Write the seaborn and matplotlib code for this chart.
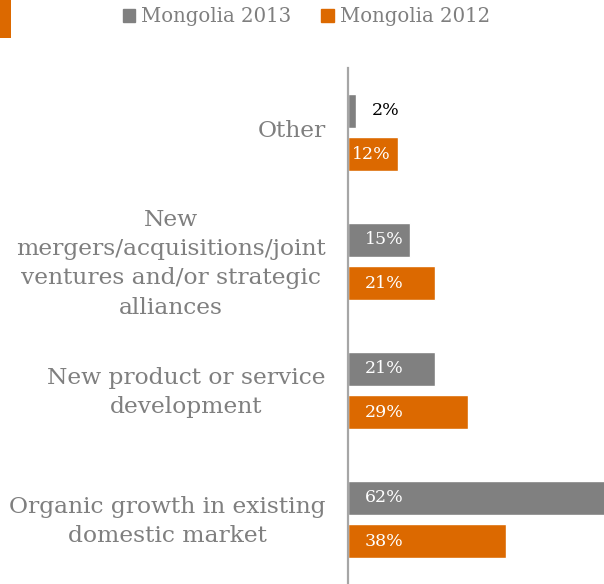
import matplotlib
matplotlib.use("Agg")
import matplotlib.pyplot as plt
import matplotlib.transforms as mtransforms
import seaborn as sns
import pandas as pd
from matplotlib.patches import Rectangle

categories = [
    "Other",
    "New\nmergers/acquisitions/joint\nventures and/or strategic\nalliances",
    "New product or service\ndevelopment",
    "Organic growth in existing\ndomestic market",
]
series_names = ["Mongolia 2013", "Mongolia 2012"]
values_2013 = [2, 15, 21, 62]
values_2012 = [12, 21, 29, 38]

GRAY = "#808080"
ORANGE = "#DC6900"
TEXT_GRAY = "#7f7f7f"

sns.set_theme(style="white")
plt.rcParams["font.family"] = ["DejaVu Serif"]

df = pd.DataFrame({
    "category": categories * 2,
    "series": [series_names[0]] * len(categories) + [series_names[1]] * len(categories),
    "value": values_2013 + values_2012,
})

fig = plt.figure(figsize=(6.04, 5.84), dpi=100)
ax = fig.add_axes([348 / 604, 0.0, 1 - 348 / 604, (584 - 68) / 584])

sns.barplot(
    data=df, y="category", x="value", hue="series", orient="h",
    order=categories, hue_order=series_names,
    palette=[GRAY, ORANGE], width=0.667, gap=0.21,
    saturation=1, legend=False, ax=ax,
)

ax.set_xlim(0, 61.7)
ax.set_ylim(3.5, -0.5)
ax.set_xlabel("")
ax.set_ylabel("")
ax.set_xticks([])
for side in ["top", "right", "bottom"]:
    ax.spines[side].set_visible(False)
ax.spines["left"].set_color("#a6a6a6")
ax.spines["left"].set_linewidth(1.6)
ax.tick_params(axis="y", length=0, pad=16, labelsize=16.8, labelcolor=TEXT_GRAY)

# nudge category labels slightly upward
lift = mtransforms.ScaledTranslation(0, 4 / 100, fig.dpi_scale_trans)
for t in ax.get_yticklabels():
    t.set_multialignment("center")
    t.set_linespacing(1.44)
    t.set_transform(t.get_transform() + lift)

# value labels on each bar
for container, vals in zip(ax.containers, [values_2013, values_2012]):
    for bar, v in zip(container, vals):
        yc = bar.get_y() + bar.get_height() / 2
        label = f"{v}%"
        if v < 5:
            ax.annotate(label, (v, yc), xytext=(16, 0), textcoords="offset pixels",
                        ha="left", va="center", fontsize=12.5, color="black")
        elif v < 14:
            ax.annotate(label, (v / 2, yc), xytext=(-2, 0), textcoords="offset pixels",
                        ha="center", va="center", fontsize=12.5, color="white")
        else:
            ax.annotate(label, (0, yc), xytext=(17, 0), textcoords="offset pixels",
                        ha="left", va="center", fontsize=12.5, color="white")

handles = [Rectangle((0, 0), 1, 1, color=c) for c in [GRAY, ORANGE]]
leg = fig.legend(handles, series_names, loc="center", bbox_to_anchor=(306.5 / 604, 1 - 17 / 584),
                 ncol=2, frameon=False, fontsize=14.2, handlelength=0.65, handleheight=0.65,
                 handletextpad=0.3, columnspacing=1.52, labelcolor=TEXT_GRAY)

# orange accent block in the top-left corner
fig.patches.append(Rectangle((0, 1 - 38 / 584), 11 / 604, 38 / 584, transform=fig.transFigure,
                             facecolor=ORANGE, edgecolor="none"))

fig.savefig("out.png", dpi=100)
